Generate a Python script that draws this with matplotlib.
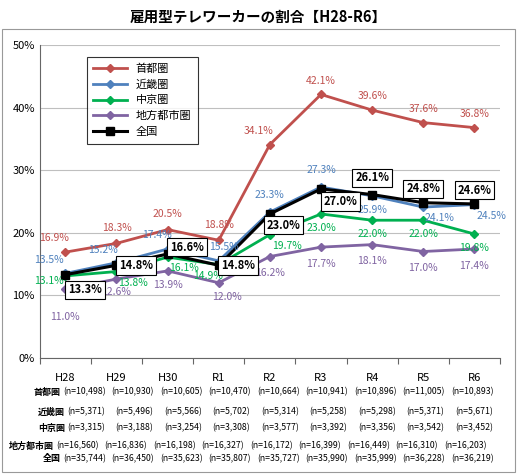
import matplotlib
matplotlib.use("Agg")
import matplotlib.pyplot as plt
from matplotlib.patches import Rectangle

plt.rcParams['font.family'] = ['Noto Sans CJK JP', 'DejaVu Sans']

years = ["H28", "H29", "H30", "R1", "R2", "R3", "R4", "R5", "R6"]
shuto = [16.9, 18.3, 20.5, 18.8, 34.1, 42.1, 39.6, 37.6, 36.8]
kinki = [13.5, 15.2, 17.4, 15.5, 23.3, 27.3, 25.9, 24.1, 24.5]
chukyo = [13.1, 13.8, 16.1, 14.9, 19.7, 23.0, 22.0, 22.0, 19.8]
chiho = [11.0, 12.6, 13.9, 12.0, 16.2, 17.7, 18.1, 17.0, 17.4]
zenkoku = [13.3, 14.8, 16.6, 14.8, 23.0, 27.0, 26.1, 24.8, 24.6]

n_shuto = ["10,498", "10,930", "10,605", "10,470", "10,664", "10,941", "10,896", "11,005", "10,893"]
n_kinki = ["5,371", "5,496", "5,566", "5,702", "5,314", "5,258", "5,298", "5,371", "5,671"]
n_chukyo = ["3,315", "3,188", "3,254", "3,308", "3,577", "3,392", "3,356", "3,542", "3,452"]
n_chiho = ["16,560", "16,836", "16,198", "16,327", "16,172", "16,399", "16,449", "16,310", "16,203"]
n_zenkoku = ["35,744", "36,450", "35,623", "35,807", "35,727", "35,990", "35,999", "36,228", "36,219"]

fig = plt.figure(figsize=(5.17, 4.74), dpi=100)
fig.patches.append(Rectangle((0.004, 0.004), 0.992, 0.935, transform=fig.transFigure,
                             fill=False, edgecolor='#999999', lw=0.8))
fig.text(0.5, 0.965, "雇用型テレワーカーの割合【H28-R6】", ha='center', va='center',
         fontsize=10.5, fontweight='bold')
ax = fig.add_axes([0.077, 0.245, 0.89, 0.66])
x = list(range(len(years)))

series = [
    ("首都圏", shuto, '#C0504D', 'D', 4),
    ("近畿圏", kinki, '#4F81BD', 'D', 4),
    ("中京圏", chukyo, '#00B050', 'D', 4),
    ("地方都市圏", chiho, '#8064A2', 'D', 4),
    ("全国", zenkoku, '#000000', 's', 6),
]
for name, vals, c, m, ms in series:
    ax.plot(x, vals, color=c, marker=m, ms=ms, lw=2 if name != "全国" else 2.2, label=name,
            zorder=4 if name == "全国" else 3)

def lab(vals, c, offs, box=False):
    for i, v in enumerate(vals):
        dx, dy = offs[i]
        kw = dict(fontsize=7.5, color=c, ha='center', va='center')
        if box:
            kw.update(fontweight='bold', fontsize=8,
                      bbox=dict(boxstyle='square,pad=0.25', fc='white', ec='black', lw=0.8))
        ax.annotate(f"{v:.1f}%", (i, v), xytext=(dx, dy), textcoords='offset points',
                    zorder=6 if box else 5, **kw)

lab(shuto, '#C0504D', [(-8, 10), (0, 11), (0, 11), (0, 11), (-8, 10), (0, 10), (0, 10), (0, 10), (0, 10)])
lab(kinki, '#4F81BD', [(-12, 10), (-10, 9), (-8, 10), (4, 10), (0, 12), (0, 12), (0, -10), (12, -8), (12, -8)])
lab(chukyo, '#00B050', [(-12, -4), (12, -8), (12, -8), (-8, -8), (12, -8), (0, -10), (0, -10), (0, -10), (0, -10)])
lab(chiho, '#8064A2', [(0, -20), (0, -9), (0, -10), (6, -10), (0, -12), (0, -12), (0, -12), (0, -12), (0, -12)])
lab(zenkoku, '#000000', [(14, -11), (14, 0), (14, 5), (14, 0), (10, -8), (14, -9), (0, 12), (0, 10), (0, 10)], box=True)

ax.set_xlim(-0.5, 8.5)
ax.set_ylim(0, 50)
ax.set_yticks(range(0, 51, 10))
ax.set_yticklabels([f"{v}%" for v in range(0, 51, 10)], fontsize=8)
ax.yaxis.grid(True, color='#BFBFBF', lw=0.8)
ax.set_axisbelow(True)
ax.set_xticks([i + 0.5 for i in range(-1, 9)])
ax.set_xticklabels([])
ax.tick_params(axis='x', length=4, color='#666666')
ax.tick_params(axis='y', length=0)
for s in ['top', 'right']:
    ax.spines[s].set_visible(False)
for s in ['left', 'bottom']:
    ax.spines[s].set_color('#666666')

leg = ax.legend(loc='upper left', bbox_to_anchor=(0.09, 0.98), fontsize=8, frameon=True,
                fancybox=False, edgecolor='black', handlelength=3, borderpad=0.6, labelspacing=0.5)
leg.get_frame().set_linewidth(0.8)

tr = ax.get_xaxis_transform()
for i, y in enumerate(years):
    ax.text(i, -0.065, y, transform=tr, ha='center', va='center', fontsize=8)
rows = [("首都圏", n_shuto, 392, 63, 48.5), ("近畿圏", n_kinki, 412, 67, 48.5),
        ("中京圏", n_chukyo, 428, 67, 48.5), ("地方都市圏", n_chiho, 446, 56, 48.5),
        ("全国", n_zenkoku, 459, 63, 48.5)]
for name, ns, ypx, x0, step in rows:
    yf = 1 - ypx / 474
    fig.text((x0 - 2) / 517, yf, name, ha='right', va='center', fontsize=6.5, fontweight='bold')
    for i, n in enumerate(ns):
        fig.text((x0 + i * step) / 517, yf, f"(n={n})", ha='left', va='center', fontsize=6.3)

fig.savefig("out.png", dpi=100)
